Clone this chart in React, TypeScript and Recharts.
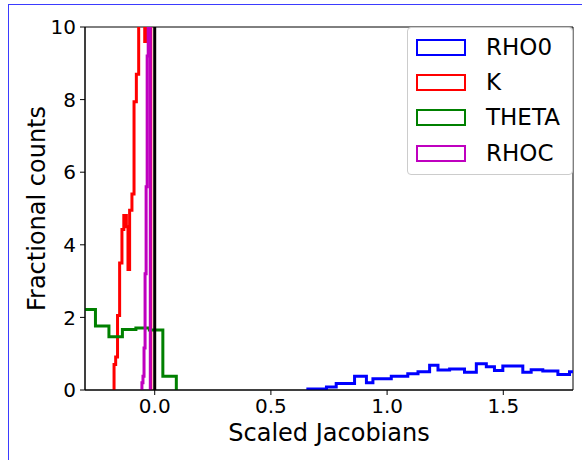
import { Line, LineChart, ReferenceArea, ReferenceLine, XAxis, YAxis } from "recharts";

// histogram bin edges and heights (fractional counts)
const rho0Edges = [0.659, 0.739, 0.781, 0.86, 0.911, 0.939, 1.018, 1.089, 1.133, 1.183, 1.219, 1.269, 1.333, 1.384, 1.427, 1.462, 1.498, 1.584, 1.62, 1.67, 1.735, 1.785, 1.83];
const rho0Counts = [0.03, 0.08, 0.18, 0.38, 0.2, 0.31, 0.38, 0.45, 0.5, 0.68, 0.55, 0.58, 0.49, 0.72, 0.64, 0.54, 0.66, 0.49, 0.56, 0.52, 0.43, 0.5];

const kEdges = [-0.175, -0.168, -0.16, -0.151, -0.141, -0.133, -0.122, -0.115, -0.108, -0.098, -0.089, -0.079, -0.069, -0.06, -0.052, -0.043, -0.033, -0.025, -0.017];
const kCounts = [0.7, 0.91, 2.05, 3.5, 4.42, 4.81, 4.5, 3.32, 4.95, 5.4, 7.94, 8.7, 11.5, 12.5, 13, 9.6, 12, 10.5];

const thetaEdges = [-0.313, -0.255, -0.197, -0.139, -0.081, -0.023, 0.035, 0.093];
const thetaCounts = [2.22, 1.76, 1.47, 1.67, 1.71, 1.65, 0.38];

const rhocEdges = [-0.055, -0.0505, -0.046, -0.0415, -0.037, -0.0325, -0.028, -0.0235, -0.019];
const rhocCounts = [0.2, 0.38, 1.16, 3.2, 5.6, 9.2, 15, 20];

const xTicks = [0, 0.5, 1, 1.5];
const yTicks = [0, 2, 4, 6, 8, 10];

type Pt = { x: number; y: number };

function stepOutline(edges: number[], counts: number[]): Pt[] {
  const pts: Pt[] = [{ x: edges[0], y: 0 }];
  counts.forEach((c, i) => pts.push({ x: edges[i], y: c }));
  pts.push({ x: edges[edges.length - 1], y: 0 });
  return pts;
}

const series = [
  { name: "RHO0", color: "#0000ff", data: stepOutline(rho0Edges, rho0Counts) },
  { name: "K", color: "#ff0000", data: stepOutline(kEdges, kCounts) },
  { name: "THETA", color: "#008000", data: stepOutline(thetaEdges, thetaCounts) },
  { name: "RHOC", color: "#bf00bf", data: stepOutline(rhocEdges, rhocCounts) },
];

const font = '"DejaVu Sans", sans-serif';
const tickStyle = { fontSize: 20, fill: "#000", fontFamily: font };
const labelStyle = { fontSize: 24, fill: "#000", fontFamily: font };

export default function App() {
  return (
    <div style={{ position: "absolute", left: 0, top: 0, width: 582, height: 460, fontFamily: font, background: "#fff" }}>
      <div
        style={{
          position: "absolute",
          left: 8,
          top: 4,
          width: 574,
          height: 456,
          boxSizing: "border-box",
          borderLeft: "1px solid #3b3bff",
          borderTop: "1px solid #3b3bff",
        }}
      />
      <LineChart width={582} height={460} margin={{ top: 27, right: 9, bottom: 0, left: 0 }}>
        <XAxis
          type="number"
          dataKey="x"
          domain={[-0.3, 1.8]}
          allowDataOverflow
          ticks={xTicks}
          tickFormatter={(v) => Number(v).toFixed(1)}
          height={70}
          tick={tickStyle}
          tickSize={5}
          tickMargin={4}
          stroke="#000"
          label={{ value: "Scaled Jacobians", position: "insideBottom", offset: 19, style: labelStyle }}
        />
        <YAxis
          type="number"
          dataKey="y"
          domain={[0, 10]}
          allowDataOverflow
          ticks={yTicks}
          width={85}
          tick={tickStyle}
          tickSize={5}
          tickMargin={4}
          stroke="#000"
          label={{ value: "Fractional counts", angle: -90, position: "insideLeft", offset: 36, style: { ...labelStyle, textAnchor: "middle" } }}
        />
        <ReferenceArea x1={-0.3} x2={1.8} y1={0} y2={10} fill="none" fillOpacity={0} stroke="#000" strokeWidth={1} />
        {series.map((s) => (
          <Line
            key={s.name}
            data={s.data}
            dataKey="y"
            type="stepAfter"
            stroke={s.color}
            strokeWidth={3}
            dot={false}
            activeDot={false}
            isAnimationActive={false}
          />
        ))}
        <ReferenceLine x={0} stroke="#000" strokeWidth={3} />
      </LineChart>
      <div
        style={{
          position: "absolute",
          left: 407,
          top: 27,
          width: 166,
          height: 148,
          boxSizing: "border-box",
          border: "1px solid #cccccc",
          borderRadius: 4,
          background: "rgba(255,255,255,0.8)",
        }}
      >
        {series.map((s, i) => (
          <div key={s.name} style={{ position: "absolute", left: 0, top: 11 + i * 35.2, height: 17, width: 166 }}>
            <div
              style={{
                position: "absolute",
                left: 8,
                top: 0,
                width: 50,
                height: 17,
                boxSizing: "border-box",
                border: `2.7px solid ${s.color}`,
              }}
            />
            <div style={{ position: "absolute", left: 78, top: -6, fontSize: 23, lineHeight: "28px", color: "#000", whiteSpace: "nowrap" }}>
              {s.name}
            </div>
          </div>
        ))}
      </div>
    </div>
  );
}
